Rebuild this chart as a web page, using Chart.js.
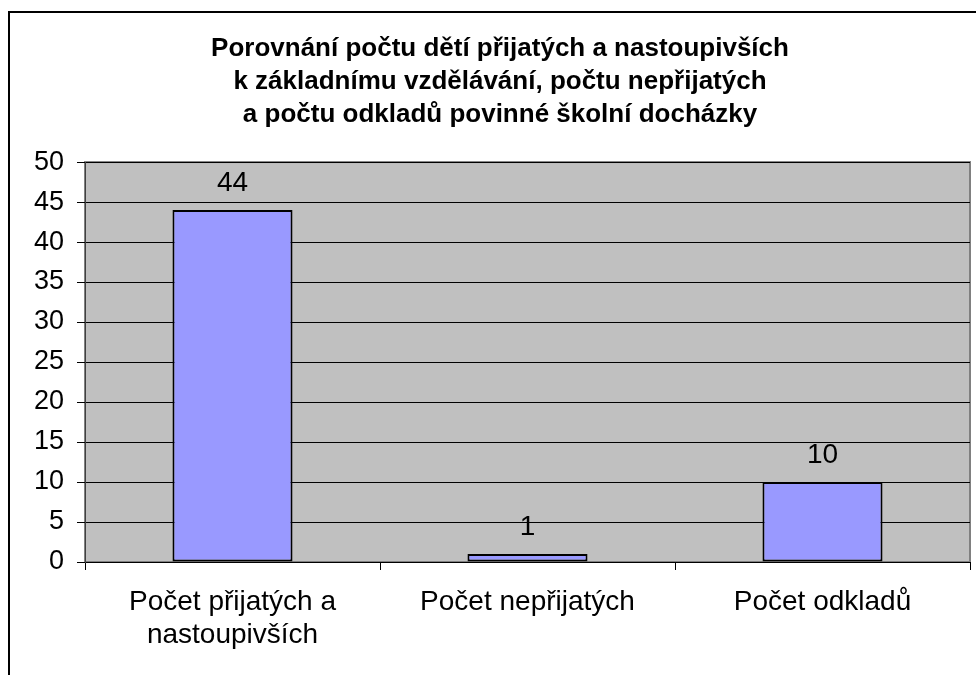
<!DOCTYPE html>
<html>
<head>
<meta charset="utf-8">
<script src="https://cdn.jsdelivr.net/npm/chart.js@4"></script>
<style>
  html, body { margin: 0; padding: 0; background: #fff; }
  #wrap { width: 976px; height: 675px; }
</style>
</head>
<body>
<div id="wrap"><canvas id="bar-chart" width="976" height="675"></canvas></div>
<script>
let categories = [["Počet přijatých a", "nastoupivších"], "Počet nepřijatých", "Počet odkladů"]
let values = [44, 1, 10]
let titleLines = [
  "Porovnání počtu dětí přijatých a nastoupivších",
  "k základnímu vzdělávání, počtu nepřijatých",
  "a počtu odkladů povinné školní docházky"
]

const FONT = "'Liberation Sans', Arial, sans-serif"

// gray plot area + outer frame
const frame = {
  id: "frame",
  beforeDraw(chart) {
    const c = chart.ctx
    const a = chart.chartArea
    c.save()
    c.fillStyle = "#fff"
    c.fillRect(0, 0, chart.width, chart.height)
    c.strokeStyle = "#000"
    c.lineWidth = 2
    c.strokeRect(9, 12, chart.width + 20, chart.height + 20)
    c.fillStyle = "#c0c0c0"
    c.fillRect(a.left, a.top, a.right - a.left, a.bottom - a.top)
    c.strokeStyle = "#808080"
    c.lineWidth = 2
    c.strokeRect(a.left, a.top, a.right - a.left, a.bottom - a.top)
    c.restore()
  }
}

// value labels above the bars
const barLabels = {
  id: "barLabels",
  afterDatasetsDraw(chart) {
    const c = chart.ctx
    const meta = chart.getDatasetMeta(0)
    c.save()
    c.font = "28px " + FONT
    c.fillStyle = "#000"
    c.textAlign = "center"
    c.textBaseline = "alphabetic"
    meta.data.forEach((bar, i) => {
      c.fillText(values[i], bar.x, bar.y - 19)
    })
    c.restore()
  }
}

const ctx = document.getElementById("bar-chart").getContext("2d")

new Chart(ctx, {
  type: "bar",
  data: {
    labels: categories,
    datasets: [
      {
        data: values,
        backgroundColor: "#9999ff",
        borderColor: "#000",
        borderWidth: 2,
        borderSkipped: false,
        categoryPercentage: 1,
        barPercentage: 0.407
      }
    ]
  },
  options: {
    responsive: false,
    animation: false,
    layout: {
      padding: { left: 30, right: 6, top: 0, bottom: 0 }
    },
    plugins: {
      legend: { display: false },
      tooltip: { enabled: false },
      title: {
        display: true,
        text: titleLines,
        color: "#000",
        font: { family: FONT, size: 26, weight: "bold", lineHeight: 1.27 },
        padding: { top: 32, bottom: 31 }
      }
    },
    scales: {
      x: {
        grid: {
          offset: true,
          drawOnChartArea: false,
          color: "#000",
          tickLength: 8
        },
        border: { color: "#000", width: 1 },
        ticks: {
          color: "#000",
          font: { family: FONT, size: 28, lineHeight: 1.17 },
          padding: 16,
          maxRotation: 0,
          autoSkip: false
        },
        afterFit(scale) { scale.height = 113 }
      },
      y: {
        min: 0,
        max: 50,
        grid: {
          color: "#000",
          lineWidth: 1,
          tickLength: 8
        },
        border: { color: "#404040", width: 1 },
        ticks: {
          stepSize: 5,
          color: "#000",
          font: { family: FONT, size: 27 },
          padding: 13
        },
        afterFit(scale) { scale.width = 55 }
      }
    }
  },
  plugins: [frame, barLabels]
})
</script>
</body>
</html>
